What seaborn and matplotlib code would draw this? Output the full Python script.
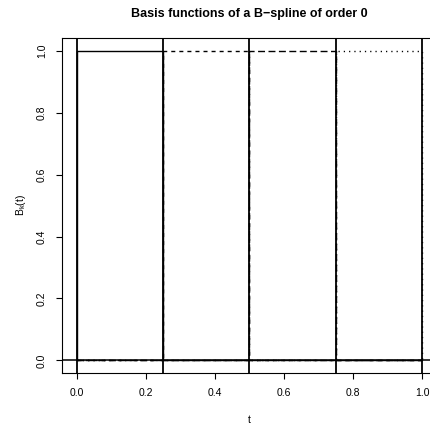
import matplotlib
matplotlib.use("Agg")
import matplotlib.pyplot as plt
import seaborn as sns
import pandas as pd

# Knot sequence and the four order-0 basis functions (piecewise constant)
knots = [0.0, 0.25, 0.5, 0.75, 1.0]
basis_names = ["B1", "B2", "B3", "B4"]
basis_levels = [1.0, 1.0, 1.0, 1.0]

sns.set_theme(style="white")
plt.rcParams["font.family"] = ["Liberation Sans", "DejaVu Sans"]
plt.rcParams["lines.scale_dashes"] = False

rows = []
for k, name in enumerate(basis_names):
    lo, hi = knots[k], knots[k + 1]
    pts = [(knots[0], 0.0), (lo, 0.0), (lo, basis_levels[k]),
           (hi, basis_levels[k]), (hi, 0.0), (knots[-1], 0.0)]
    for i, (t, b) in enumerate(pts):
        rows.append({"t": t, "B": b, "basis": name, "order": i})
df = pd.DataFrame(rows)

fig = plt.figure(figsize=(4.31, 4.26), dpi=100)
ax = fig.add_axes([62.3 / 431, 53.3 / 426, 374.3 / 431, 334.7 / 426])

dash_map = {"B1": "", "B2": (2.9, 2.9), "B3": (5.0, 2.5), "B4": (0.9, 2.9)}
sns.lineplot(data=df, x="t", y="B", style="basis", units="basis",
             estimator=None, sort=False, dashes=dash_map, color="black",
             linewidth=1.0, legend=False, ax=ax)

for v in knots:
    ax.axvline(v, color="black", linewidth=1.3)
ax.axhline(0.0, color="black", linewidth=1.1)

ax.set_xlim(-0.042, 1.042)
ax.set_ylim(-0.04, 1.042)
ticks = [0.0, 0.2, 0.4, 0.6, 0.8, 1.0]
tick_labels = ["0.0", "0.2", "0.4", "0.6", "0.8", "1.0"]
ax.set_xticks(ticks)
ax.set_yticks(ticks)
ax.set_xticklabels(tick_labels)
ax.set_yticklabels(tick_labels, rotation=90, va="center")
ax.tick_params(axis="both", direction="out", length=4.5, width=0.8,
               color="black", labelsize=7.5, pad=6.5, labelcolor="black",
               bottom=True, left=True)

for s in ax.spines.values():
    s.set_color("black")
    s.set_linewidth(0.8)

ax.set_xlabel("t", fontsize=7.5, labelpad=12.5, color="black")
ax.set_ylabel(r"$\mathregular{B_k(t)}$", fontsize=7.5, labelpad=6.5, color="black")
ax.set_title("Basis functions of a B\u2212spline of order 0",
             fontsize=9.0, fontweight="bold", pad=15, color="black")

fig.savefig("out.png", dpi=100)
